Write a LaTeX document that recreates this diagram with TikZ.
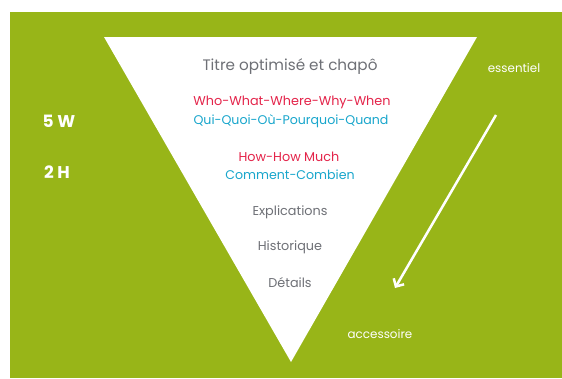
\documentclass[tikz,border=0pt]{standalone}
\usepackage{fontspec}
\setmainfont{Poppins}
\usetikzlibrary{positioning,arrows.meta}
\definecolor{grass}{RGB}{152,181,24}
\definecolor{slate}{RGB}{110,112,118}
\definecolor{crimson}{RGB}{228,36,74}
\definecolor{sky}{RGB}{24,166,204}

\begin{document}
\begin{tikzpicture}[
    x=1pt, y=-1pt,
    % define styles
    grey/.style={
        text=slate,
        font=\fontsize{12.8}{15}\selectfont
    },
    red/.style={
        text=crimson,
        font=\fontsize{12.8}{15}\selectfont
    },
    blue/.style={
        text=sky,
        font=\fontsize{12.6}{15}\selectfont
    },
    side/.style={
        text=white,
        font=\fontsize{11.9}{14}\selectfont
    },
    count/.style={
        text=white,
        font=\bfseries\fontsize{17}{19}\selectfont
    },
    >={Straight Barb[length=6pt,width=12pt]}
]
\useasboundingbox (0,0) rectangle (562,378);

% background and funnel
\fill[grass] (10,12) rectangle (562,378);
\fill[white] (104,37) -- (477,37) -- (291,362) -- cycle;

% funnel contents, top to bottom
\node[grey, font=\fontsize{15.2}{17}\selectfont] (titre) at (290,67) {Titre optimisé et chapô};
\node[red]  (who)  at (292,102) {Who-What-Where-Why-When};
\node[blue] (qui)  at (291,121) {Qui-Quoi-Où-Pourquoi-Quand};
\node[red]  (how)  at (289,157) {How-How Much};
\node[blue] (comment) at (290,175) {Comment-Combien};
\node[grey] (explications) at (290,212) {Explications};
\node[grey] (historique) at (290,247) {Historique};
\node[grey] (details) at (290,283) {Détails};

% left labels
\node[count] (cinqw) at (59,121) {5 W};
\node[count] (deuxh) at (57,172) {2 H};

% right labels and arrow
\node[side] (essentiel) at (514,68) {essentiel};
\node[side] (accessoire) at (380,334) {accessoire};
\coordinate (haut) at (496,115);
\coordinate (bas) at (395,288);
\draw[->, white, line width=2.5pt] (haut) -- (bas);
\end{tikzpicture}
\end{document}
